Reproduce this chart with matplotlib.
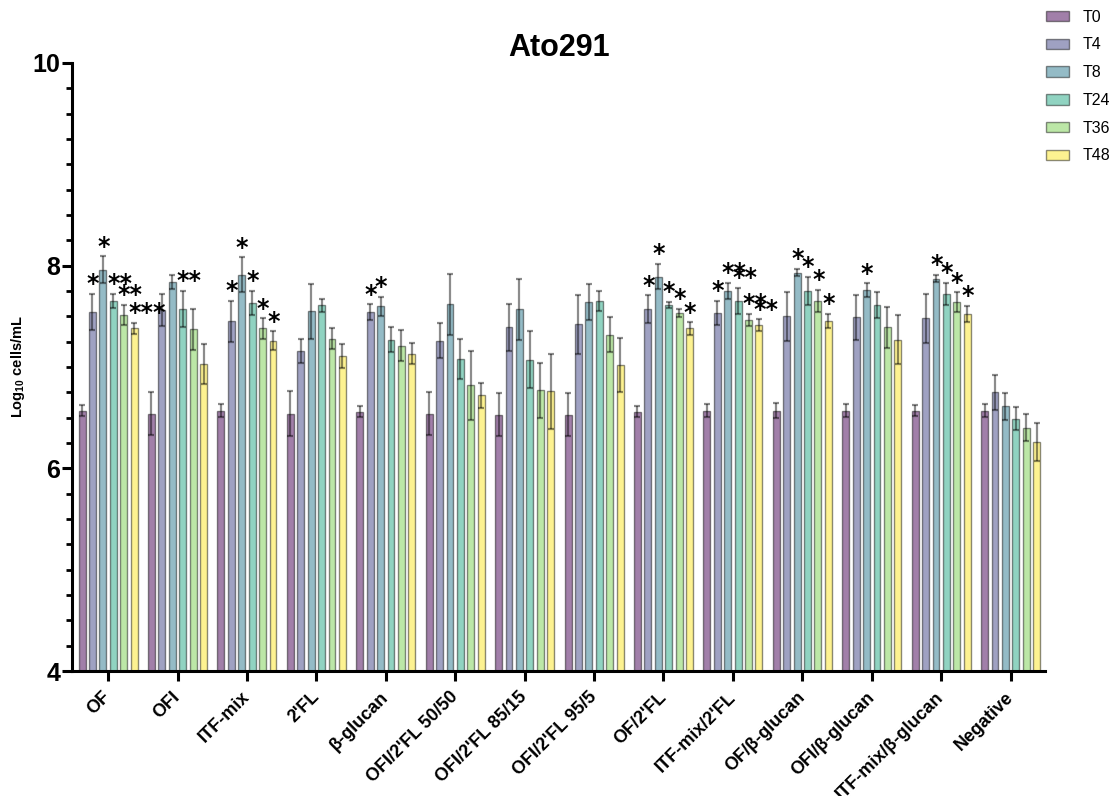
import numpy as np
import matplotlib
matplotlib.use("Agg")
import matplotlib.pyplot as plt
from matplotlib.ticker import MultipleLocator
from matplotlib.patches import Patch

plt.rcParams['font.family'] = ['Liberation Sans', 'DejaVu Sans']
plt.rcParams['mathtext.fontset'] = 'custom'
plt.rcParams['mathtext.bf'] = 'Liberation Sans:bold'

categories = ["OF", "OFI", "ITF-mix", "2'FL", "β-glucan", "OFI/2'FL 50/50",
              "OFI/2'FL 85/15", "OFI/2'FL 95/5", "OF/2'FL", "ITF-mix/2'FL",
              "OF/β-glucan", "OFI/β-glucan", "ITF-mix/β-glucan", "Negative"]
timepoints = ["T0", "T4", "T8", "T24", "T36", "T48"]

# mean log10 cells/mL per substrate (rows) and timepoint (columns)
means = np.array([
    [6.57, 7.54, 7.96, 7.65, 7.51, 7.38],
    [6.54, 7.56, 7.84, 7.57, 7.37, 7.03],
    [6.57, 7.45, 7.91, 7.63, 7.38, 7.26],
    [6.54, 7.16, 7.55, 7.61, 7.28, 7.11],
    [6.56, 7.54, 7.60, 7.27, 7.21, 7.13],
    [6.54, 7.26, 7.62, 7.08, 6.82, 6.72],
    [6.53, 7.39, 7.57, 7.07, 6.77, 6.76],
    [6.53, 7.42, 7.64, 7.65, 7.32, 7.02],
    [6.56, 7.57, 7.89, 7.61, 7.53, 7.38],
    [6.57, 7.53, 7.75, 7.65, 7.46, 7.41],
    [6.57, 7.50, 7.93, 7.75, 7.65, 7.45],
    [6.57, 7.49, 7.76, 7.61, 7.39, 7.27],
    [6.57, 7.48, 7.87, 7.72, 7.64, 7.52],
    [6.57, 6.75, 6.61, 6.49, 6.40, 6.26],
])

# standard deviations
sds = np.array([
    [0.05, 0.18, 0.13, 0.07, 0.10, 0.055],
    [0.21, 0.16, 0.07, 0.18, 0.20, 0.20],
    [0.06, 0.20, 0.17, 0.12, 0.10, 0.09],
    [0.22, 0.12, 0.27, 0.065, 0.10, 0.12],
    [0.055, 0.077, 0.095, 0.125, 0.155, 0.105],
    [0.21, 0.17, 0.30, 0.20, 0.34, 0.125],
    [0.21, 0.23, 0.30, 0.28, 0.27, 0.37],
    [0.21, 0.29, 0.18, 0.10, 0.175, 0.27],
    [0.055, 0.135, 0.125, 0.03, 0.04, 0.06],
    [0.065, 0.12, 0.08, 0.13, 0.06, 0.06],
    [0.075, 0.24, 0.035, 0.14, 0.11, 0.07],
    [0.065, 0.22, 0.065, 0.13, 0.20, 0.24],
    [0.056, 0.24, 0.036, 0.11, 0.095, 0.08],
    [0.065, 0.17, 0.13, 0.115, 0.135, 0.19],
])

# significance markers versus T0
stars = [
    ["", "*", "*", "**", "**", "***"],
    ["", "", "", "**", "", ""],
    ["", "*", "*", "*", "*", "*"],
    ["", "", "", "", "", ""],
    ["", "*", "*", "", "", ""],
    ["", "", "", "", "", ""],
    ["", "", "", "", "", ""],
    ["", "", "", "", "", ""],
    ["", "*", "*", "*", "*", "*"],
    ["", "*", "**", "**", "**", "**"],
    ["", "", "*", "*", "*", "*"],
    ["", "", "*", "", "", ""],
    ["", "", "*", "*", "*", "*"],
    ["", "", "", "", "", ""],
]

palette = plt.get_cmap('viridis')(np.linspace(0, 1, len(timepoints)))
face = [(c[0], c[1], c[2], 0.5) for c in palette]
edge = (0, 0, 0, 0.45)

fig = plt.figure(figsize=(11.18, 7.96), dpi=100)
ax = fig.add_axes([0.0644, 0.157, 0.8706, 0.764])

x = np.arange(len(categories))
step = 0.15
width = 0.1
offsets = (np.arange(len(timepoints)) - (len(timepoints) - 1) / 2) * step

for j, tp in enumerate(timepoints):
    xs = x + offsets[j]
    ax.bar(xs, means[:, j], width=width, color=face[j], edgecolor=edge,
           linewidth=1.0, zorder=2)
    ax.errorbar(xs, means[:, j], yerr=sds[:, j], fmt='none',
                ecolor=(0, 0, 0, 0.45), elinewidth=1.6, capsize=2,
                capthick=1.6, zorder=3)
    for i in range(len(categories)):
        s = stars[i][j]
        if s:
            ax.annotate(s, (xs[i], means[i, j] + sds[i, j]),
                        xytext=(-4.2, 2), textcoords='offset points',
                        ha='left', va='baseline', fontsize=17,
                        fontweight='bold', family='DejaVu Sans',
                        color='black', zorder=4)

ax.set_ylim(4, 10)
ax.set_xlim(-0.52, len(categories) - 0.5)
ax.yaxis.set_major_locator(MultipleLocator(2))
ax.yaxis.set_minor_locator(MultipleLocator(0.25))

for side in ('top', 'right'):
    ax.spines[side].set_visible(False)
for side in ('left', 'bottom'):
    ax.spines[side].set_linewidth(2.2)

ax.tick_params(axis='y', which='major', length=7, width=2.2, labelsize=18,
               pad=1.5)
ax.tick_params(axis='y', which='minor', length=4, width=2.0)
ax.tick_params(axis='x', which='major', length=7, width=2.2)
for lbl in ax.get_yticklabels():
    lbl.set_fontweight('bold')

ax.set_xticks(x)
ax.set_xticklabels(categories, rotation=45, ha='right', va='center',
                   rotation_mode='anchor', fontsize=13, fontweight='bold')
ax.tick_params(axis='x', pad=10)

ax.set_ylabel(r'Log$_{\mathbf{10}}$ cells/mL', fontsize=10.5,
              fontweight='bold', labelpad=4)
ax.set_title('Ato291', fontsize=22, fontweight='bold', pad=2)

handles = [Patch(facecolor=face[j], edgecolor=edge, linewidth=1.0)
           for j in range(len(timepoints))]
fig.legend(handles, timepoints, loc='upper left',
           bbox_to_anchor=(0.923, 1.006), frameon=False, fontsize=11.5,
           handlelength=1.4, handleheight=0.63, labelspacing=0.8,
           handletextpad=0.87)

fig.savefig('out.png', dpi=100)
